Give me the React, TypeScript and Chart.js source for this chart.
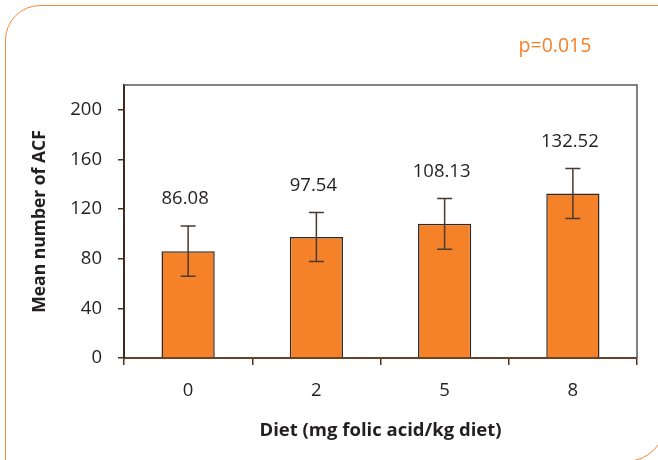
import React, { useEffect, useRef } from "react";
import { Chart, registerables } from "chart.js";

Chart.register(...registerables);

const categories = ["0", "2", "5", "8"];
const meanValues = [86.08, 97.54, 108.13, 132.52];
const errorValues = [20.2, 19.7, 20.4, 20.2];
const valueLabels = ["86.08", "97.54", "108.13", "132.52"];
const yTickValues = [0, 40, 80, 120, 160, 200];
const pValueText = "p=0.015";
const yTitle = "Mean number of ACF";
const xTitle = "Diet (mg folic acid/kg diet)";

const FONT = "'Open Sans', sans-serif";
const TEXT = "#231f20";
const ORANGE = "#f58228";

const overlay = {
  id: "overlay",
  afterDatasetsDraw(chart: any) {
    const { ctx, chartArea, scales } = chart;
    const { left, right, top, bottom } = chartArea;
    const y = scales.y;
    ctx.save();
    // top & right frame of plot area
    ctx.strokeStyle = "#58595b";
    ctx.lineWidth = 1.5;
    ctx.beginPath();
    ctx.moveTo(left, top);
    ctx.lineTo(right, top);
    ctx.lineTo(right, bottom);
    ctx.stroke();

    const meta = chart.getDatasetMeta(0);
    meta.data.forEach((bar: any, i: number) => {
      const xc = bar.x;
      const hi = y.getPixelForValue(meanValues[i] + errorValues[i]);
      const lo = y.getPixelForValue(meanValues[i] - errorValues[i]);
      ctx.strokeStyle = "#4a3a2e";
      ctx.lineWidth = 1.5;
      ctx.beginPath();
      ctx.moveTo(xc, hi);
      ctx.lineTo(xc, lo);
      ctx.moveTo(xc - 7.5, hi);
      ctx.lineTo(xc + 7.5, hi);
      ctx.moveTo(xc - 7.5, lo);
      ctx.lineTo(xc + 7.5, lo);
      ctx.stroke();

      ctx.fillStyle = TEXT;
      ctx.font = `18.5px ${FONT}`;
      ctx.textAlign = "center";
      ctx.textBaseline = "middle";
      ctx.fillText(valueLabels[i], xc - 3, hi - 27);
    });

    ctx.fillStyle = ORANGE;
    ctx.font = `19.5px ${FONT}`;
    ctx.textAlign = "center";
    ctx.textBaseline = "middle";
    ctx.fillText(pValueText, 555, 46);
    ctx.restore();
  },
};

export default function App() {
  const ref = useRef<HTMLCanvasElement>(null);

  useEffect(() => {
    if (!ref.current) return;
    const chart = new Chart(ref.current, {
      type: "bar",
      data: {
        labels: categories,
        datasets: [
          {
            data: meanValues,
            backgroundColor: ORANGE,
            borderColor: "#2f2a26",
            borderWidth: 1.5,
            barPercentage: 0.415,
            categoryPercentage: 1,
          },
        ],
      },
      options: {
        animation: false,
        responsive: false,
        maintainAspectRatio: false,
        layout: { padding: { left: 0, right: 21, top: 85, bottom: 0 } },
        plugins: {
          legend: { display: false },
          tooltip: { enabled: false },
        },
        scales: {
          x: {
            grid: {
              display: true,
              drawOnChartArea: false,
              tickLength: 7,
              color: "#4a3420",
              lineWidth: 1.5,
              offset: true,
            },
            border: { display: true, color: "#6b4226", width: 2 },
            ticks: {
              color: TEXT,
              font: { family: FONT, size: 18.5 },
              padding: 15,
            },
            title: {
              display: true,
              text: xTitle,
              color: TEXT,
              font: { family: FONT, size: 18.5, weight: "bold" },
              padding: { top: 0, bottom: 18 },
            },
            afterFit: (s: any) => {
              s.height = 102;
            },
          },
          y: {
            min: 0,
            max: 220,
            grid: {
              display: true,
              drawOnChartArea: false,
              tickLength: 6,
              color: "#4a3420",
              lineWidth: 1.5,
            },
            border: { display: true, color: "#3d2b1f", width: 2 },
            ticks: {
              stepSize: 40,
              color: TEXT,
              font: { family: FONT, size: 18.5 },
              padding: 16,
            },
            afterBuildTicks: (s: any) => {
              s.ticks = yTickValues.map((v) => ({ value: v }));
            },
            title: {
              display: true,
              text: yTitle,
              color: TEXT,
              font: { family: FONT, size: 17.5, weight: "bold" },
              padding: { top: 30, bottom: 0 },
            },
            afterFit: (s: any) => {
              s.width = 124;
            },
          },
        },
      },
      plugins: [overlay],
    });
    return () => chart.destroy();
  }, []);

  return (
    <div
      style={{
        position: "fixed",
        left: 0,
        top: 0,
        width: 658,
        height: 460,
        overflow: "hidden",
        background: "#fff",
      }}
    >
      <div
        style={{
          position: "absolute",
          left: 5,
          top: 5,
          width: 661,
          height: 457,
          border: "1.5px solid #f58a3c",
          borderRadius: "35px 0 40px 0",
          boxSizing: "border-box",
        }}
      />
      <canvas
        ref={ref}
        width={658}
        height={460}
        style={{ position: "absolute", left: 0, top: 0, display: "block" }}
      />
    </div>
  );
}
